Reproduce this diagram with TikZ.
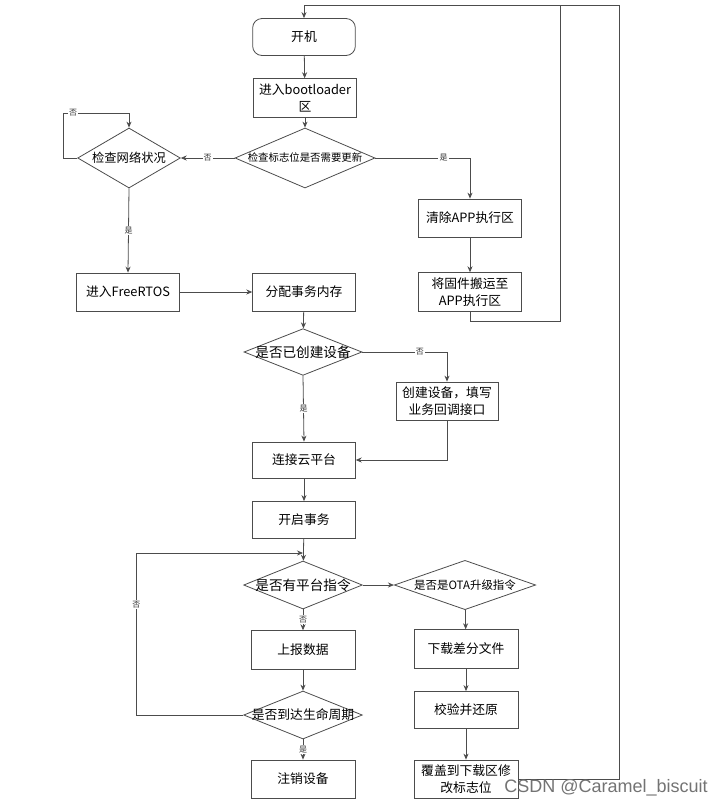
\documentclass[tikz,border=0pt]{standalone}
\usepackage{fontspec}
\newfontfamily\cjk{Noto Sans CJK SC}
\newfontfamily\wmfont{Liberation Sans}
\usetikzlibrary{arrows.meta,shapes.geometric}

\begin{document}
\begin{tikzpicture}[>={Stealth[length=4.5pt,width=3.8pt]}, x=0.75pt, y=-0.75pt,
  line/.style={draw=black!70, line width=0.6pt},
  box/.style={line, rectangle, minimum width=77pt, minimum height=28.5pt,
    inner sep=1pt, align=center, font=\cjk\fontsize{9.6}{12.5}\selectfont},
  decision/.style={line, diamond, inner sep=0pt,
    font=\cjk\fontsize{9.6}{12}\selectfont},
  yesno/.style={font=\cjk\fontsize{6}{7}\selectfont, fill=white,
    inner sep=0.8pt, text=black!80}]
\useasboundingbox (0,0) rectangle (728,808);

% --- Bootloader part ---
\node[box, rounded corners=7pt, minimum height=27.75pt] (kaiji) at (304,37) {开机};
\node[box, minimum height=29pt] (boot) at (305,98) {进入bootloader\\区};
\node[decision, minimum width=105pt, minimum height=45pt,
  font=\cjk\fontsize{7.8}{9}\selectfont] (flag) at (305,158)
  {\makebox[0pt]{检查标志位是否需要更新}};
\node[decision, minimum width=77pt, minimum height=45pt,
  font=\cjk\fontsize{9.2}{11}\selectfont] (net) at (129,158)
  {\makebox[0pt]{检查网络状况}};
\node[box] (clear) at (470,218) {清除APP执行区};
\node[box, minimum height=29pt] (move) at (470,292) {将固件搬运至\\APP执行区};

% --- FreeRTOS part ---
\node[box] (rtos) at (128,292) {进入FreeRTOS};
\node[box] (alloc) at (304,292) {分配事务内存};
\node[decision, minimum width=88.5pt, minimum height=35pt,
  font=\cjk\fontsize{10.2}{12}\selectfont] (created) at (303,352)
  {\makebox[0pt]{是否已创建设备}};
\node[box, minimum width=76.5pt] (create) at (447,401) {创建设备，填写\\业务回调接口};
\node[box, minimum height=27pt] (cloud) at (304,460) {连接云平台};
\node[box, minimum height=27.75pt] (start) at (304,520) {开启事务};

% --- Command loop ---
\node[decision, minimum width=89pt, minimum height=36pt,
  font=\cjk\fontsize{10.2}{12}\selectfont] (cmd) at (303,585)
  {\makebox[0pt]{是否有平台指令}};
\node[decision, minimum width=106pt, minimum height=37pt,
  font=\cjk\fontsize{8.6}{10}\selectfont] (ota) at (465,585)
  {\makebox[0pt]{是否是OTA升级指令}};
\node[box, minimum width=78pt, minimum height=29pt] (report) at (303,650) {上报数据};
\node[decision, minimum width=89pt, minimum height=36pt,
  font=\cjk\fontsize{9.6}{12}\selectfont] (life) at (303,715)
  {\makebox[0pt]{是否到达生命周期}};
\node[box, minimum width=78pt] (logout) at (303,779) {注销设备};
\node[box, minimum width=78pt, minimum height=29pt] (download) at (466,649) {下载差分文件};
\node[box, minimum width=78pt, minimum height=27.75pt] (verify) at (466,710) {校验并还原};
\node[box, minimum width=78pt] (cover) at (466,779) {覆盖到下载区修\\改标志位};

% Corner points of the long return lines
\coordinate (topR) at (619,5);
\coordinate (topM) at (560,5);
\coordinate (netTop) at (129,113);
\coordinate (loopIn) at (303,553);

% --- Connectors ---
\draw[line, ->] (kaiji) -- (boot);
\draw[line, ->] (boot) -- (flag);
\draw[line, ->] (flag.west) -- node[yesno] {否} (net.east);
\draw[line, ->] (flag.east) -| node[yesno, pos=0.36] {是} (clear.north);
\draw[line, ->] (net.west) -- ++(-14,0) |- node[yesno, pos=0.575] {否} (netTop) -- (net.north);
\draw[line, ->] (net.south) -- node[yesno] {是} (rtos.north);
\draw[line, ->] (clear) -- (move);
\draw[line] (move.south) -- ++(0,10) -| (topM);
\draw[line, ->] (rtos) -- (alloc);
\draw[line, ->] (alloc) -- (created);
\draw[line, ->] (created.east) -| node[yesno, pos=0.34] {否} (create.north);
\draw[line, ->] (created.south) -- node[yesno] {是} (cloud.north);
\draw[line, ->] (create.south) |- (cloud.east);
\draw[line, ->] (cloud) -- (start);
\draw[line, ->] (start) -- (cmd);
\draw[line, ->] (cmd) -- (ota);
\draw[line, ->] (cmd.south) -- node[yesno] {否} (report.north);
\draw[line, ->] (report) -- (life);
\draw[line, ->] (life.south) -- node[yesno] {是} (logout.north);
\draw[line, ->] (life.west) -- ++(-107,0) |- node[yesno, pos=0.34] {否} (loopIn);
\draw[line, ->] (ota) -- (download);
\draw[line, ->] (download) -- (verify);
\draw[line, ->] (verify) -- (cover);
\draw[line, ->] (cover.east) -| (topR) -| (kaiji.north);

% Watermark
\node[font=\wmfont\fontsize{13.5}{14}\selectfont, text=black!55] (mark) at (606,788)
  {CSDN @Caramel\_biscuit};
\end{tikzpicture}
\end{document}
